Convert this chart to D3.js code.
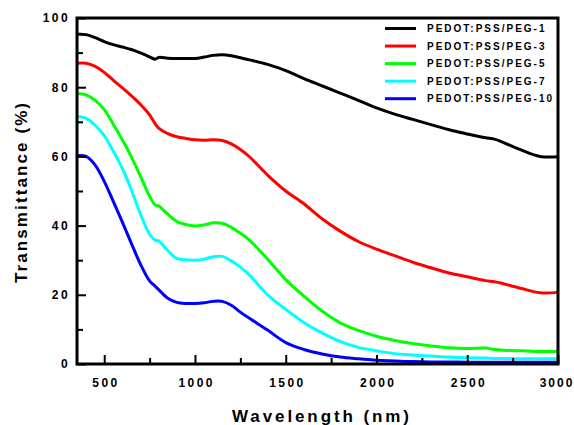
<!DOCTYPE html>
<html>
<head>
<meta charset="utf-8">
<script src="https://cdn.jsdelivr.net/npm/d3@7"></script>
<style>
  html, body { margin: 0; padding: 0; background: #fff; }
  svg { display: block; font-family: "Liberation Sans", Arial, sans-serif; }
</style>
</head>
<body>
<svg id="chart" width="574" height="425"></svg>
<script>
const wavelength = [350, 400, 450, 500, 550, 600, 650, 700, 750, 780, 800, 850, 900, 950, 1000, 1050, 1100, 1150, 1200, 1250, 1300, 1400, 1500, 1600, 1700, 1800, 1900, 2000, 2100, 2200, 2300, 2400, 2500, 2600, 2650, 2700, 2800, 2900, 3000];

const peg1 = [95.3, 95.2, 94.3, 93.2, 92.3, 91.6, 90.9, 89.9, 88.8, 88.1, 88.6, 88.4, 88.3, 88.3, 88.3, 88.7, 89.2, 89.4, 89.1, 88.5, 87.9, 86.6, 84.8, 82.5, 80.4, 78.3, 76.2, 74.0, 72.2, 70.7, 69.2, 67.7, 66.5, 65.4, 65.0, 64.0, 61.8, 60.0, 59.9];
const peg3 = [86.9, 86.9, 86.0, 84.3, 82.0, 79.8, 77.5, 75.0, 72.0, 69.5, 68.2, 66.6, 65.7, 65.2, 64.8, 64.7, 64.8, 64.6, 63.6, 62.0, 59.9, 54.6, 50.0, 46.3, 42.0, 38.4, 35.4, 33.2, 31.3, 29.4, 27.8, 26.3, 25.2, 24.1, 23.8, 23.2, 21.8, 20.6, 20.7];
const peg5 = [78.2, 77.8, 76.2, 73.5, 69.3, 64.8, 59.8, 54.2, 48.5, 46.0, 45.7, 43.3, 41.2, 40.3, 39.9, 40.2, 40.8, 40.7, 39.5, 37.8, 35.8, 30.3, 24.4, 19.6, 15.3, 11.9, 9.7, 8.0, 6.8, 5.9, 5.2, 4.7, 4.5, 4.6, 4.2, 4.0, 3.8, 3.6, 3.7];
const peg7 = [71.5, 71.0, 69.0, 66.0, 61.5, 56.5, 50.3, 43.3, 37.5, 35.8, 35.6, 32.8, 30.5, 30.1, 30.0, 30.3, 31.0, 31.1, 29.8, 28.0, 25.7, 20.0, 15.8, 12.0, 9.0, 6.5, 4.8, 3.8, 3.0, 2.6, 2.3, 2.0, 1.8, 1.7, 1.6, 1.6, 1.5, 1.5, 1.5];
const peg10 = [60.2, 60.0, 57.5, 52.8, 47.0, 41.0, 34.8, 28.8, 24.0, 22.5, 21.5, 19.0, 17.8, 17.5, 17.5, 17.7, 18.1, 18.1, 17.0, 15.0, 13.2, 9.8, 6.2, 4.2, 2.9, 2.0, 1.5, 1.1, 0.9, 0.7, 0.6, 0.6, 0.5, 0.5, 0.5, 0.5, 0.5, 0.5, 0.5];

const seriesNames = ["PEDOT:PSS/PEG-1", "PEDOT:PSS/PEG-3", "PEDOT:PSS/PEG-5", "PEDOT:PSS/PEG-7", "PEDOT:PSS/PEG-10"];
const seriesColors = ["#000000", "#ff0000", "#00ff00", "#00ffff", "#0000ff"];
const seriesValues = [peg1, peg3, peg5, peg7, peg10];

const xMajorTicks = [500, 1000, 1500, 2000, 2500, 3000];
const xMinorTicks = [750, 1250, 1750, 2250, 2750];
const yMajorTicks = [0, 20, 40, 60, 80, 100];
const yMinorTicks = [10, 30, 50, 70, 90];

const svg = d3.select("#chart");
const L = 77, R = 558, T = 18, B = 364;

const x = d3.scaleLinear().domain([350, 3000]).range([L, R]);
const y = d3.scaleLinear().domain([0, 100]).range([B, T]);

const line = d3.line()
  .x((d, i) => x(wavelength[i]))
  .y(d => y(d))
  .curve(d3.curveCatmullRom.alpha(0.5));

const gLines = svg.append("g");
seriesValues.forEach((vals, k) => {
  gLines.append("path")
    .attr("d", line(vals))
    .attr("fill", "none")
    .attr("stroke", seriesColors[k])
    .attr("stroke-width", 3)
    .attr("stroke-linejoin", "round");
});

// Axes with inward ticks
const xAxis = d3.axisBottom(x).tickValues(xMajorTicks).tickSizeInner(-9).tickSizeOuter(0).tickPadding(14).tickFormat(d3.format("d"));
const xAxisMinor = d3.axisBottom(x).tickValues(xMinorTicks).tickSizeInner(-6).tickSizeOuter(0).tickFormat("");
const yAxis = d3.axisLeft(y).tickValues(yMajorTicks).tickSizeInner(-9).tickSizeOuter(0).tickPadding(9).tickFormat(d3.format("d"));
const yAxisMinor = d3.axisLeft(y).tickValues(yMinorTicks).tickSizeInner(-6).tickSizeOuter(0).tickFormat("");

function styleAxis(g) {
  g.select(".domain").remove();
  g.selectAll(".tick line").attr("stroke", "#000").attr("stroke-width", 2);
  g.selectAll(".tick text")
    .attr("fill", "#000")
    .style("font-size", "12px")
    .style("font-weight", "bold")
    .style("letter-spacing", "2.4px");
}

svg.append("g").attr("transform", `translate(0,${B})`).call(xAxis).call(styleAxis)
  .selectAll(".tick text")
  .attr("dx", d => d === 3000 ? "-1.5px" : "1.2px")
  .style("letter-spacing", d => d === 3000 ? "2px" : "2.4px");
svg.append("g").attr("transform", `translate(0,${B})`).call(xAxisMinor).call(styleAxis);
svg.append("g").attr("transform", `translate(${L},0)`).call(yAxis).call(styleAxis)
  .selectAll(".tick text").attr("dx", "2px");
svg.append("g").attr("transform", `translate(${L},0)`).call(yAxisMinor).call(styleAxis);

// Frame
svg.append("rect")
  .attr("x", L).attr("y", T)
  .attr("width", R - L).attr("height", B - T)
  .attr("fill", "none").attr("stroke", "#000").attr("stroke-width", 3);

// Axis titles
svg.append("text")
  .attr("x", 232).attr("y", 422)
  .style("font-size", "17px").style("font-weight", "bold").style("letter-spacing", "2.9px")
  .text("Wavelength (nm)");

svg.append("text")
  .attr("transform", "translate(26.5,283) rotate(-90)")
  .style("font-size", "17px").style("font-weight", "bold").style("letter-spacing", "2.1px")
  .text("Transmittance (%)");

// Legend
const legendRowY = d3.scalePoint().domain(d3.range(seriesNames.length)).range([28.5, 98.7]);
const leg = svg.append("g");
seriesNames.forEach((name, k) => {
  const yy = legendRowY(k);
  leg.append("line")
    .attr("x1", 385).attr("x2", 416).attr("y1", yy).attr("y2", yy)
    .attr("stroke", seriesColors[k]).attr("stroke-width", 3);
  leg.append("text")
    .attr("x", 427).attr("y", yy + 3.7)
    .style("font-size", "10px").style("font-weight", "bold").style("letter-spacing", "2px")
    .text(name);
});
</script>
</body>
</html>
